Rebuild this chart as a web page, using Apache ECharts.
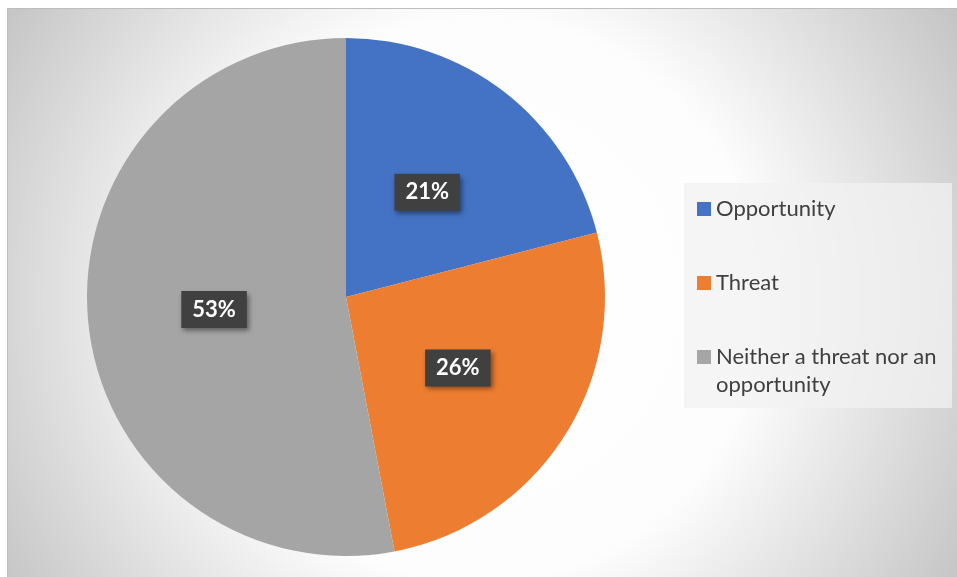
<!DOCTYPE html>
<html>
<head>
<meta charset="utf-8">
<script src="https://cdn.jsdelivr.net/npm/echarts@6/dist/echarts.min.js"></script>
<style>
html,body{margin:0;padding:0;background:#fff;}
#chart{width:957px;height:577px;}
</style>
</head>
<body>
<div id="chart"></div>
<script>
/* data */
var categories = ['Opportunity', 'Threat', 'Neither a threat nor an opportunity'];
var values = [21, 26, 53];
var colors = ['#4472C4', '#ED7D31', '#A5A5A5'];

var myChart = echarts.init(document.getElementById('chart'));

var pieData = [];
for (var i = 0; i < categories.length; i++) {
    pieData.push({ name: categories[i], value: values[i], itemStyle: { color: colors[i] } });
}

var legendFont = 'Lato, "Open Sans", sans-serif';

myChart.setOption({
    animation: false,
    graphic: [{
        type: 'rect',
        z: -10,
        silent: true,
        shape: { x: 7.5, y: 8.5, width: 950, height: 570 },
        style: {
            fill: new echarts.graphic.RadialGradient(0.497, 0.511, 0.98, [
                { offset: 0, color: '#ffffff' },
                { offset: 0.5, color: '#fdfdfd' },
                { offset: 1, color: '#c4c4c4' }
            ]),
            stroke: '#bdbdbd',
            lineWidth: 1
        }
    }, {
        // legend box
        type: 'rect',
        z: -5,
        silent: true,
        shape: { x: 684, y: 183, width: 268, height: 225 },
        style: { fill: 'rgba(242,242,242,0.75)' }
    }],
    legend: {
        orient: 'vertical',
        left: 697,
        top: 167,
        data: categories,
        icon: 'rect',
        itemWidth: 14,
        itemHeight: 14,
        itemGap: -10,
        padding: 0,
        selectedMode: false,
        formatter: function (name) {
            // every item is 3 lines tall so the square sits beside the first text line
            if (name == categories[2]) return '{e| }\n{t|Neither a threat nor an}\n{t|opportunity}';
            return '{e| }\n{t|' + name + '}\n{e| }';
        },
        textStyle: {
            fontFamily: legendFont,
            fontSize: 22,
            lineHeight: 28,
            color: '#404040',
            rich: {
                e: { fontFamily: legendFont, fontSize: 22, lineHeight: 28, color: '#404040' },
                t: { fontFamily: legendFont, fontSize: 22, lineHeight: 28, color: '#404040' }
            }
        }
    },
    series: [{
        type: 'pie',
        silent: true,
        center: [346, 297],
        radius: [0, 259],
        startAngle: 90,
        clockwise: true,
        data: pieData,
        label: {
            show: true,
            position: 'inside',
            formatter: '{c}%',
            fontFamily: 'Lato, "Open Sans", sans-serif',
            fontWeight: 'bold',
            fontSize: 22,
            color: '#ffffff',
            backgroundColor: '#404040',
            padding: [8, 11, 7, 11],
            shadowBlur: 5,
            shadowOffsetX: 2,
            shadowOffsetY: 3,
            shadowColor: 'rgba(0,0,0,0.45)'
        },
        labelLine: { show: false },
        emphasis: { disabled: true }
    }]
});
</script>
</body>
</html>
